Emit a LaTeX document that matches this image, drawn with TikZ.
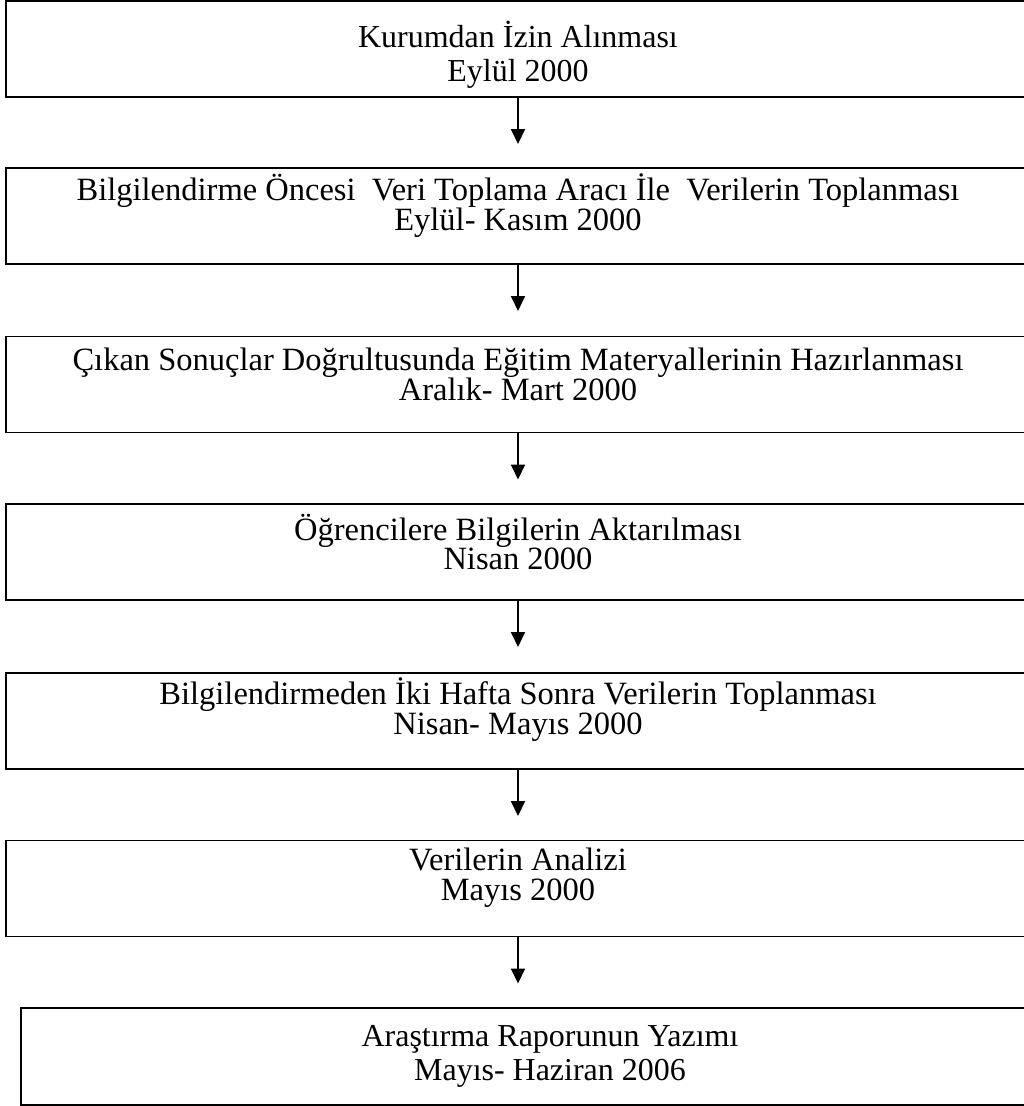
\documentclass[tikz,border=0pt]{standalone}
\usepackage{fontspec}
\setmainfont{Liberation Serif}
\usetikzlibrary{arrows.meta, calc}

\newcommand\tightlines{\fontsize{18.5}{17}\selectfont\setlength{\lineskiplimit}{-10pt}}

\begin{document}
\begin{tikzpicture}[
        x=0.02cm, y=-0.02cm,
        line cap=butt,
        stagebox/.style={draw=black, line width=1.1pt, minimum width=20.48cm, minimum height=1.92cm, inner sep=0pt, outer sep=0pt},
        last stagebox/.style={stagebox, minimum width=21.16cm, minimum height=1.94cm},
        wide text/.style={font=\fontsize{18.2}{19.4}\selectfont, align=center, inner sep=0pt},
        tight text/.style={font=\tightlines, align=center, inner sep=0pt},
        flow/.style={line width=0.85pt, -{Triangle[length=8.5pt, width=8pt]}},
    ]
    \useasboundingbox (0,0) rectangle (1024,1106);

    % boxes
    \node[stagebox] (s1) at (518,49) {};
    \node[stagebox] (s2) at (518,216) {};
    \node[stagebox] (s3) at (518,384.5) {};
    \node[stagebox] (s4) at (518,552) {};
    \node[stagebox] (s5) at (518,721) {};
    \node[stagebox] (s6) at (518,888.5) {};
    \node[last stagebox] (s7) at (550,1056.5) {};

    % texts
    \node[wide text] (t1) at (518,55) {Kurumdan İzin Alınması\\Eylül 2000};
    \node[tight text] (t2) at (518,206) {Bilgilendirme Öncesi\ \ Veri Toplama Aracı İle\ \ Verilerin Toplanması\\Eylül- Kasım 2000};
    \node[tight text] (t3) at (518,374) {Çıkan Sonuçlar Doğrultusunda Eğitim Materyallerinin Hazırlanması\\Aralık- Mart 2000};
    \node[tight text] (t4) at (518,542) {Öğrencilere Bilgilerin Aktarılması\\Nisan 2000};
    \node[tight text] (t5) at (518,710) {Bilgilendirmeden İki Hafta Sonra Verilerin Toplanması\\Nisan- Mayıs 2000};
    \node[tight text] (t6) at (518,878) {Verilerin Analizi\\Mayıs 2000};
    \node[wide text] (t7) at (550,1056.5) {Araştırma Raporunun Yazımı\\Mayıs- Haziran 2006};

    % arrows
    \coordinate (a1) at ($(s1.south)+(0,47)$);
    \coordinate (a2) at ($(s2.south)+(0,47)$);
    \coordinate (a3) at ($(s3.south)+(0,47)$);
    \coordinate (a4) at ($(s4.south)+(0,47)$);
    \coordinate (a5) at ($(s5.south)+(0,47)$);
    \coordinate (a6) at ($(s6.south)+(0,47)$);
    \draw[flow] (s1.south) -- (a1);
    \draw[flow] (s2.south) -- (a2);
    \draw[flow] (s3.south) -- (a3);
    \draw[flow] (s4.south) -- (a4);
    \draw[flow] (s5.south) -- (a5);
    \draw[flow] (s6.south) -- (a6);
\end{tikzpicture}
\end{document}
